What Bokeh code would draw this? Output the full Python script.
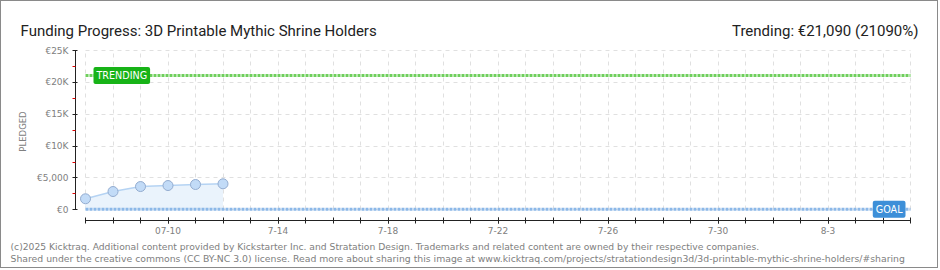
import math
import pandas as pd
from bokeh.plotting import figure
from bokeh.models import FixedTicker, Label, Range1d
from bokeh.embed import file_html
from bokeh.resources import INLINE

# ---- data ----
campaign_start = "2025-07-07"
campaign_end = "2025-08-06"
dates = ["2025-07-07", "2025-07-08", "2025-07-09", "2025-07-10", "2025-07-11", "2025-07-12"]
pledged = [1730, 2870, 3650, 3810, 3970, 4080]
goal = 100
trending = 21090
y_ticks = [0, 5000, 10000, 15000, 20000, 25000]
y_tick_labels = ["€0", "€5,000", "€10K", "€15K", "€20K", "€25K"]
y_minor = [2500, 7500, 12500, 17500, 22500]
x_label_dates = ["2025-07-10", "2025-07-14", "2025-07-18", "2025-07-22", "2025-07-26", "2025-07-30", "2025-08-03"]
x_tick_labels = ["07-10", "7-14", "7-18", "7-22", "7-26", "7-30", "8-3"]
title_left = "Funding Progress: 3D Printable Mythic Shrine Holders"
title_right = "Trending: €21,090 (21090%)"
footer1 = "(c)2025 Kicktraq. Additional content provided by Kickstarter Inc. and Stratation Design. Trademarks and related content are owned by their respective companies."
footer2 = "Shared under the creative commons (CC BY-NC 3.0) license. Read more about sharing this image at www.kicktraq.com/projects/stratationdesign3d/3d-printable-mythic-shrine-holders/#sharing"

t0 = pd.Timestamp(campaign_start)
def day(d):
    return (pd.Timestamp(d) - t0).days

xs = [day(d) for d in dates]
end_day = day(campaign_end)
all_days = list(range(0, end_day + 1))
label_days = [day(d) for d in x_label_dates]

# ---- layout (page pixels) ----
W, H = 938, 268          # canvas inside a 1px border
X0, PXD = 85.0, 27.5     # page x of first day, px per day
Y0, PXV = 209.3, 159.3 / 25000.0   # page y of zero, px per euro
AXIS_X, AXIS_Y = 75.0, 220.0

def page_x_to_day(px):
    return (px - X0) / PXD
def page_y_to_val(py):
    return (Y0 - py) / PXV

p = figure(width=W, height=H, output_backend="svg", toolbar_location=None,
           min_border_left=0, min_border_right=0, min_border_top=0, min_border_bottom=0,
           x_range=Range1d(page_x_to_day(1), page_x_to_day(1 + W)),
           y_range=Range1d(page_y_to_val(1 + H), page_y_to_val(1)))
p.styles = {"border": "1px solid #8a8a8a"}
p.outline_line_color = None
p.background_fill_color = "white"
p.border_fill_color = "white"

# grid
p.xgrid.ticker = FixedTicker(ticks=all_days)
p.ygrid.ticker = FixedTicker(ticks=y_ticks)
for g in (p.xgrid, p.ygrid):
    g.grid_line_color = "#e0e0e0"
    g.grid_line_dash = "4 4"
    g.grid_line_width = 1
p.xgrid.cross_bounds = (0, y_ticks[-1])
p.ygrid.cross_bounds = (0, end_day)

# axes
xa = p.xaxis[0]
xa.fixed_location = page_y_to_val(AXIS_Y)
xa.ticker = FixedTicker(ticks=label_days, minor_ticks=all_days)
xa.major_label_overrides = {d: l for d, l in zip(label_days, x_tick_labels)}
xa.bounds = (0, end_day)
xa.axis_line_color = "#222222"
xa.major_tick_line_color = "#222222"
xa.minor_tick_line_color = "#222222"
xa.major_tick_in = 3
xa.major_tick_out = 3
xa.minor_tick_in = 3
xa.minor_tick_out = 3
xa.major_label_standoff = 3
xa.major_label_text_font = "DejaVu Sans"
xa.major_label_text_font_size = "9px"
xa.major_label_text_color = "#808080"

ya = p.yaxis[0]
ya.fixed_location = page_x_to_day(AXIS_X)
ya.ticker = FixedTicker(ticks=y_ticks, minor_ticks=y_minor)
ya.major_label_overrides = {v: l for v, l in zip(y_ticks, y_tick_labels)}
ya.bounds = (0, y_ticks[-1])
ya.axis_line_color = "#222222"
ya.major_tick_line_color = "#222222"
ya.minor_tick_line_color = "#e00000"
ya.major_tick_in = 2
ya.major_tick_out = 3
ya.minor_tick_in = 0
ya.minor_tick_out = 3
ya.major_label_standoff = 4
ya.major_label_text_font = "DejaVu Sans"
ya.major_label_text_font_size = "9px"
ya.major_label_text_color = "#808080"

# pledged area, line, points
p.varea(x=xs, y1=[0] * len(xs), y2=pledged, fill_color="#eaf3fc")
p.line(x=xs, y=pledged, line_color="#b5d3f3", line_width=1.5)

# trending & goal lines
p.line(x=[0, end_day], y=[trending, trending], line_color="#6fcf5c", line_width=3, line_dash="3 1")
p.line(x=[0, end_day], y=[goal, goal], line_color="#8cb8e8", line_width=3, line_dash="3 1")

p.scatter(x=xs, y=pledged, size=10, fill_color="#c2dbf7", line_color="#93acd0", line_width=1)

# tags
p.add_layout(Label(x=0, y=trending, x_offset=8, text="TRENDING", text_align="left",
                   text_baseline="middle", text_color="white", text_font="DejaVu Sans",
                   text_font_size="9.6px", background_fill_color="#17b317", padding=3, border_radius=2))
p.add_layout(Label(x=end_day, y=goal, x_offset=-5, text="GOAL", text_align="right",
                   text_baseline="middle", text_color="white", text_font="DejaVu Sans",
                   text_font_size="9.6px", background_fill_color="#3d8fd8", padding=3, border_radius=2))

# titles & footer (screen units: frame is the whole canvas)
def sx(px):
    return px - 1
def sy(py):
    return H + 1 - py

def screen_label(x, y, text, **kw):
    p.add_layout(Label(x=sx(x), y=sy(y), x_units="screen", y_units="screen", text=text, **kw))

screen_label(20, 30, title_left, text_align="left", text_baseline="alphabetic",
             text_font="Roboto", text_font_size="15px", text_color="#222222")
screen_label(918, 30, title_right, text_align="right", text_baseline="alphabetic",
             text_font="Roboto", text_font_size="15px", text_color="#222222")
screen_label(10, 246, footer1, text_align="left", text_baseline="alphabetic",
             text_font="DejaVu Sans", text_font_size="9.2px", text_color="#808080")
screen_label(10, 258, footer2, text_align="left", text_baseline="alphabetic",
             text_font="DejaVu Sans", text_font_size="9.3px", text_color="#808080")
screen_label(22, 131, "PLEDGED", angle=math.pi / 2, text_align="center", text_baseline="middle",
             text_font="DejaVu Sans", text_font_size="8.5px", text_color="#808080")

open("out.html", "w").write(file_html(p, INLINE))
